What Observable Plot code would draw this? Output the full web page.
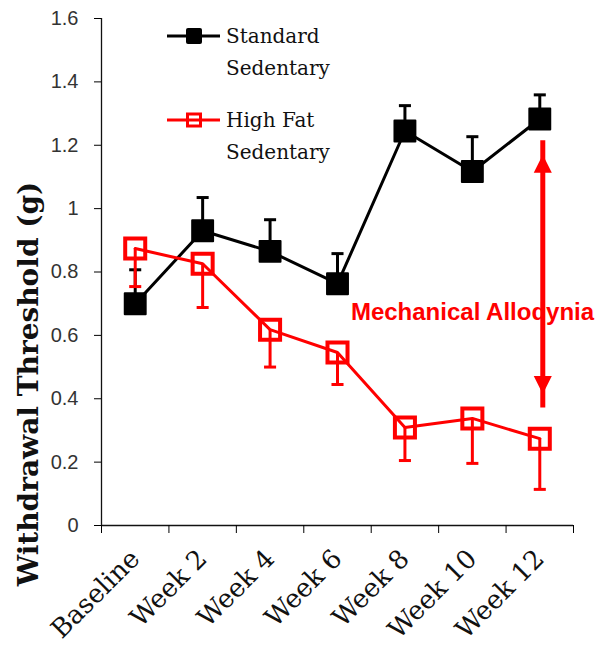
<!DOCTYPE html>
<html>
<head>
<meta charset="utf-8">
<script src="https://cdn.jsdelivr.net/npm/d3@7"></script>
<script src="https://cdn.jsdelivr.net/npm/@observablehq/plot@0.6"></script>
<style>
  body { margin: 0; background: #fff; }
  #chart { position: relative; width: 600px; height: 650px; }
</style>
</head>
<body>
<div id="chart"></div>
<script>
// Time points on the x axis
const categories = ["Baseline", "Week 2", "Week 4", "Week 6", "Week 8", "Week 10", "Week 12"];

// Standard diet, sedentary: mean threshold (g) and upper error
const standard    = [0.700, 0.930, 0.865, 0.763, 1.245, 1.117, 1.283];
const standardErr = [0.107, 0.105, 0.100, 0.095, 0.080, 0.110, 0.076];

// High fat diet, sedentary: mean threshold (g) and lower error
const highFat    = [0.874, 0.826, 0.618, 0.546, 0.309, 0.338, 0.274];
const highFatErr = [0.120, 0.138, 0.118, 0.101, 0.104, 0.142, 0.160];

const yTicks = [0, 0.2, 0.4, 0.6, 0.8, 1.0, 1.2, 1.4, 1.6];
const seriesNames = [["Standard", "Sedentary"], ["High Fat", "Sedentary"]];
const yLabel = "Withdrawal Threshold (g)";

// Gap between the two groups at the last time point
const allodynia = [{cat: "Week 12", lo: 0.415, hi: 1.17}];
const annotation = [{cat: "Week 8", v: 0.672, text: "Mechanical Allodynia"}];

const RED = "#ff0000";
const idx = c => categories.indexOf(c);
const rows = (vals, errs) => vals.map((v, i) => ({i, v, e: errs[i]}));
const stdRows = rows(standard, standardErr);
const hfRows = rows(highFat, highFatErr);

// Horizontal stroke used as an error-bar cap
const capSymbol = {draw(ctx, size) { const w = Math.sqrt(size) / 2; ctx.moveTo(-w, 0); ctx.lineTo(w, 0); }};
// Filled arrowhead with its tip at the anchor point
const headSymbol = {draw(ctx, size) { const s = Math.sqrt(size); ctx.moveTo(0, 0); ctx.lineTo(s / 2, s); ctx.lineTo(-s / 2, s); ctx.closePath(); }};

const chart = Plot.plot({
  width: 600,
  height: 650,
  marginLeft: 101,
  marginRight: 27,
  marginTop: 18,
  marginBottom: 125,
  x: {type: "linear", domain: [-0.5, categories.length - 0.5]},
  y: {domain: [0, 1.6]},
  marks: [
    // axis lines
    Plot.ruleY([0], {stroke: "#111", strokeWidth: 1.3}),
    Plot.ruleX([-0.5], {y1: 0, y2: 1.6, stroke: "#111", strokeWidth: 1.3}),
    Plot.axisY({
      ticks: yTicks, tickSize: 7, tickPadding: 16,
      tickFormat: d => String(+d.toFixed(1)),
      fontSize: 20, fontFamily: "Liberation Sans", fill: "#333", label: null
    }),
    // tick marks at category boundaries
    Plot.axisX({ticks: d3.range(-0.5, categories.length), tickSize: 8, tickFormat: () => "", label: null}),
    // category labels
    Plot.axisX({
      ticks: d3.range(categories.length), tickSize: 0, tickPadding: 29, tickRotate: -45,
      tickFormat: i => categories[i], fontSize: 26, fontFamily: "DejaVu Serif", fill: "#111", label: null
    }),
    Plot.text([yLabel], {
      text: d => d, frameAnchor: "left", textAnchor: "middle", rotate: -90, dx: -72, dy: 112,
      fontSize: 28, fontWeight: "bold", fontFamily: "DejaVu Serif", fill: "#111"
    }),

    // Standard sedentary
    Plot.ruleX(stdRows, {x: "i", y1: "v", y2: d => d.v + d.e, stroke: "#000", strokeWidth: 3}),
    Plot.dot(stdRows, {x: "i", y: d => d.v + d.e, symbol: capSymbol, r: 6.8, stroke: "#000", strokeWidth: 3, fill: "none"}),
    Plot.line(stdRows, {x: "i", y: "v", stroke: "#000", strokeWidth: 3}),
    Plot.dot(stdRows, {x: "i", y: "v", symbol: "square", r: 11.8, fill: "#000", stroke: "#000", strokeWidth: 2, strokeLinejoin: "round"}),

    // High fat sedentary
    Plot.line(hfRows, {x: "i", y: "v", stroke: RED, strokeWidth: 3}),
    Plot.ruleX(hfRows, {x: "i", y1: "v", y2: d => d.v - d.e, stroke: RED, strokeWidth: 3}),
    Plot.dot(hfRows, {x: "i", y: d => d.v - d.e, symbol: capSymbol, r: 6.8, stroke: RED, strokeWidth: 3, fill: "none"}),
    Plot.dot(hfRows, {x: "i", y: "v", symbol: "square", r: 11.3, fill: "none", stroke: RED, strokeWidth: 4}),

    // double-headed arrow marking the allodynia gap
    Plot.ruleX(allodynia, {x: d => idx(d.cat), y1: "lo", y2: "hi", dx: 3, stroke: RED, strokeWidth: 5, insetTop: 14, insetBottom: 14}),
    Plot.dot(allodynia, {x: d => idx(d.cat), y: "hi", dx: 3, symbol: headSymbol, r: 10.2, fill: RED, stroke: "none"}),
    Plot.dot(allodynia, {x: d => idx(d.cat), y: "lo", dx: 3, symbol: headSymbol, r: 10.2, rotate: 180, fill: RED, stroke: "none"}),
    Plot.text(annotation, {
      x: d => idx(d.cat), y: "v", text: "text", dx: -54, textAnchor: "start",
      fill: RED, fontSize: 24, fontWeight: "bold", fontFamily: "Liberation Sans"
    })
  ]
});

document.getElementById("chart").appendChild(chart);

// Legend inside the plot area, top left
const svg = d3.select(chart);
const legend = svg.append("g")
  .attr("font-family", "DejaVu Serif").attr("font-size", 20)
  .attr("fill", "#111").attr("text-anchor", "start");
const legendItems = [
  {names: seriesNames[0], color: "#000", filled: true, y: 36},
  {names: seriesNames[1], color: RED, filled: false, y: 120}
];
for (const item of legendItems) {
  const g = legend.append("g").attr("transform", `translate(167,${item.y})`);
  g.append("line").attr("x1", 0).attr("x2", 53).attr("stroke", item.color).attr("stroke-width", 3);
  if (item.filled) {
    g.append("rect").attr("x", 19).attr("y", -8).attr("width", 16).attr("height", 16).attr("rx", 2)
      .attr("fill", item.color);
  } else {
    g.append("rect").attr("x", 20.5).attr("y", -6).attr("width", 13).attr("height", 12)
      .attr("fill", "none").attr("stroke", item.color).attr("stroke-width", 3);
  }
  item.names.forEach((t, k) => {
    g.append("text").attr("x", 59).attr("y", k * 32).attr("dy", "0.35em").text(t);
  });
}
</script>
</body>
</html>
